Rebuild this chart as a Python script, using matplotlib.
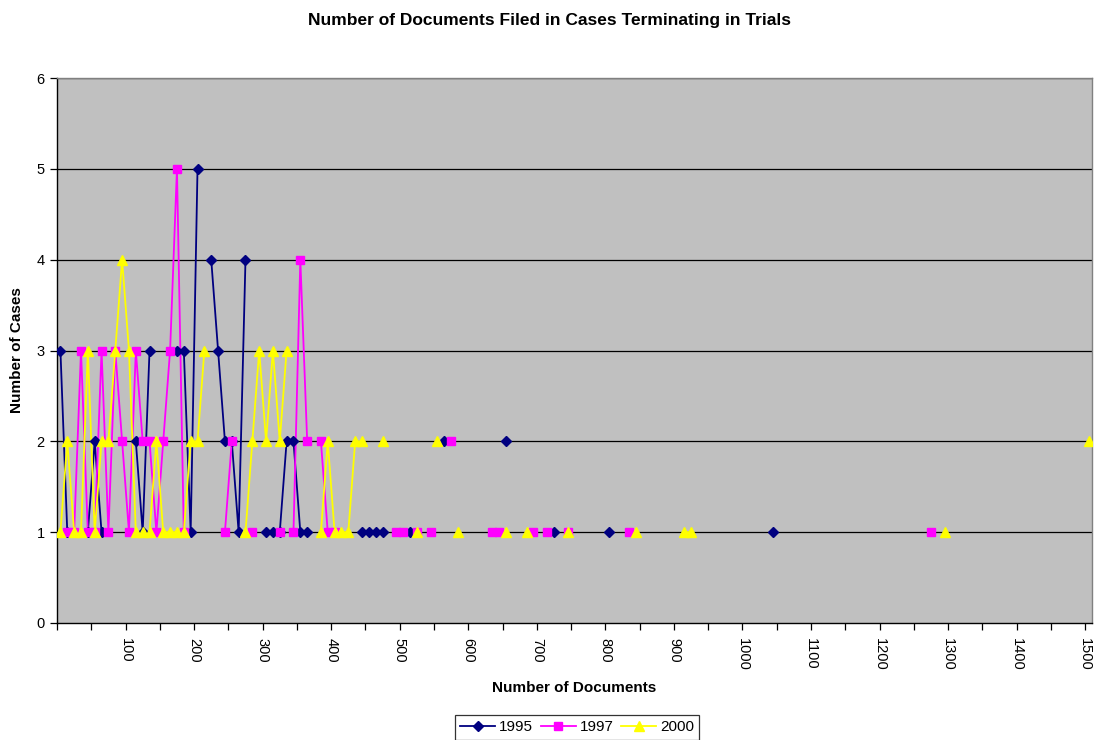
import numpy as np
import matplotlib
matplotlib.use("Agg")
import matplotlib.pyplot as plt
from matplotlib.ticker import FixedLocator, FuncFormatter

plt.rcParams['font.family'] = ['Liberation Sans', 'DejaVu Sans']

# Number of documents (bin centres) and number of cases per series
docs_1995 = [5, 15, 45, 55, 65, 115, 125, 135, 175, 185, 195, 205, 225, 235, 245, 255,
             265, 275, 305, 315, 325, 335, 345, 355, 365, 445, 455, 465, 475, 515, 565,
             655, 725, 805, 1045]
cases_1995 = [3, 1, 1, 2, 1, 2, 1, 3, 3, 3, 1, 5, 4, 3, 2, 2,
              1, 4, 1, 1, 1, 2, 2, 1, 1, 1, 1, 1, 1, 1, 2,
              2, 1, 1, 1]

docs_1997 = [15, 25, 35, 45, 55, 65, 75, 85, 95, 105, 115, 125, 135, 145, 155, 165, 175, 185,
             245, 255, 285, 325, 345, 355, 365, 385, 395, 405, 495, 505, 525, 545, 575,
             635, 645, 695, 715, 745, 835, 1275]
cases_1997 = [1, 1, 3, 1, 1, 3, 1, 3, 2, 1, 3, 2, 2, 1, 2, 3, 5, 1,
              1, 2, 1, 1, 1, 4, 2, 2, 1, 1, 1, 1, 1, 1, 2,
              1, 1, 1, 1, 1, 1, 1]

docs_2000 = [5, 15, 25, 35, 45, 55, 65, 75, 85, 95, 105, 115, 125, 135, 145, 155, 165, 175,
             185, 195, 205, 215, 275, 285, 295, 305, 315, 325, 335, 385, 395, 405, 415, 425,
             435, 445, 475, 525, 555, 585, 655, 685, 745, 845, 915, 925, 1295, 1505]
cases_2000 = [1, 2, 1, 1, 3, 1, 2, 2, 3, 4, 3, 1, 1, 1, 2, 1, 1, 1,
              1, 2, 2, 3, 1, 2, 3, 2, 3, 2, 3, 1, 2, 1, 1, 1,
              2, 2, 2, 1, 2, 1, 1, 1, 1, 1, 1, 1, 1, 2]

series = [
    ("1995", docs_1995, cases_1995, "#000080", "D", 5.0),
    ("1997", docs_1997, cases_1997, "#FF00FF", "s", 5.5),
    ("2000", docs_2000, cases_2000, "#FFFF00", "^", 7.0),
]

BIN = 10


def with_gaps(xs, ys):
    """Break the line wherever a bin is empty (Excel leaves gaps for blank cells)."""
    ox, oy = [], []
    for i, (x, y) in enumerate(zip(xs, ys)):
        if i > 0 and x - xs[i - 1] > BIN * 1.05:
            ox.append(np.nan)
            oy.append(np.nan)
        ox.append(x)
        oy.append(y)
    return np.array(ox, float), np.array(oy, float)


fig = plt.figure(figsize=(10.99, 7.40), dpi=100)
fig.patch.set_facecolor("white")
ax = fig.add_axes([57 / 1099, 1 - 623 / 740, (1092 - 57) / 1099, (623 - 78) / 740])
ax.set_facecolor("#C0C0C0")

for name, xs, ys, col, mk, ms in series:
    gx, gy = with_gaps(xs, ys)
    ax.plot(gx, gy, color=col, lw=1.3, zorder=3, label=name)
    ax.plot(xs, ys, linestyle="none", marker=mk, markersize=ms, color=col,
            markeredgecolor=col, zorder=4)

ax.set_xlim(0, 1510)
ax.set_ylim(0, 6)

ax.set_yticks(range(0, 7))
for yv in range(1, 7):
    ax.axhline(yv, color="black", lw=0.9, zorder=1)

ax.xaxis.set_major_locator(FixedLocator(list(range(0, 1501, 50))))
ax.xaxis.set_major_formatter(FuncFormatter(
    lambda v, p: "%d" % v if (v > 0 and int(round(v)) % 100 == 0) else ""))
ax.tick_params(axis="x", direction="out", length=5, width=0.9, labelsize=10.5,
               labelrotation=-90, pad=6, colors="black")
ax.tick_params(axis="y", direction="out", length=5, width=0.9, labelsize=10.5, pad=4)

for s in ["top", "right"]:
    ax.spines[s].set_color("#808080")
    ax.spines[s].set_linewidth(1.0)
for s in ["left", "bottom"]:
    ax.spines[s].set_color("black")
    ax.spines[s].set_linewidth(1.0)

fig.text(0.5, 1 - 20 / 740, "Number of Documents Filed in Cases Terminating in Trials",
         ha="center", va="center", fontsize=12.5, fontweight="bold")
fig.text(574 / 1099, 1 - 688 / 740, "Number of Documents", ha="center", va="center",
         fontsize=11, fontweight="bold")
fig.text(17 / 1099, 1 - 350 / 740, "Number of Cases", ha="center", va="center",
         rotation=90, fontsize=11, fontweight="bold")

handles = []
for name, xs, ys, col, mk, ms in series:
    h, = ax.plot([], [], color=col, lw=1.3, marker=mk, markersize=ms,
                 markeredgecolor=col)
    handles.append(h)
leg = fig.legend(handles, [s[0] for s in series], loc="upper center",
                 bbox_to_anchor=(577 / 1099, 1 - 715 / 740), ncol=3, frameon=True,
                 fancybox=False, fontsize=11, handlelength=2.3, columnspacing=0.5,
                 handletextpad=0.25, borderpad=0.35, borderaxespad=0)
leg.get_frame().set_edgecolor("black")
leg.get_frame().set_linewidth(0.9)

fig.savefig("out.png", dpi=100, facecolor="white")
